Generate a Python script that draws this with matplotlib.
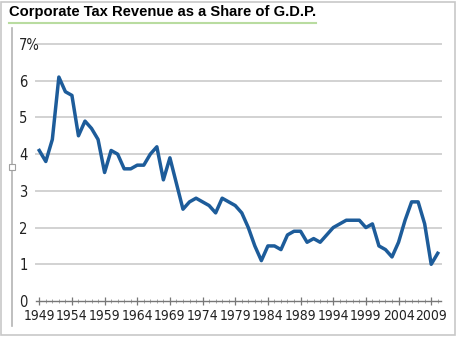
import matplotlib
matplotlib.use("Agg")
import matplotlib.pyplot as plt
from matplotlib import font_manager
from matplotlib.patches import Rectangle
from matplotlib.lines import Line2D

# Corporate tax revenue, percent of GDP, 1949-2010
years = list(range(1949, 2011))
share = [
    4.1, 3.8, 4.4, 6.1, 5.7, 5.6, 4.5, 4.9, 4.7, 4.4,   # 1949-1958
    3.5, 4.1, 4.0, 3.6, 3.6, 3.7, 3.7, 4.0, 4.2, 3.3,   # 1959-1968
    3.9, 3.2, 2.5, 2.7, 2.8, 2.7, 2.6, 2.4, 2.8, 2.7,   # 1969-1978
    2.6, 2.4, 2.0, 1.5, 1.1, 1.5, 1.5, 1.4, 1.8, 1.9,   # 1979-1988
    1.9, 1.6, 1.7, 1.6, 1.8, 2.0, 2.1, 2.2, 2.2, 2.2,   # 1989-1998
    2.0, 2.1, 1.5, 1.4, 1.2, 1.6, 2.2, 2.7, 2.7, 2.1,   # 1999-2008
    1.0, 1.3,                                           # 2009-2010
]
tick_years = list(range(1949, 2010, 5))
y_ticks = [0, 1, 2, 3, 4, 5, 6, 7]
y_labels = ["0", "1", "2", "3", "4", "5", "6", "7%"]
title = "Corporate Tax Revenue as a Share of G.D.P."

LINE_BLUE = "#1d5c9a"
GRID_GRAY = "#d2d2d2"
TEXT = "#222222"

# narrow face for the tick labels if the condensed DejaVu is around
cond = font_manager.FontProperties(family="DejaVu Sans", stretch="condensed")
if "Condensed" in font_manager.findfont(cond, fallback_to_default=False):
    tick_font = dict(family="DejaVu Sans", stretch="condensed")
else:
    tick_font = dict(family="Liberation Sans")

W, H = 460, 338
fig = plt.figure(figsize=(W / 100, H / 100), dpi=100)
fig.patch.set_facecolor("white")

# outer frame, the side rule and its little handle
fig.add_artist(Rectangle((1.5 / W, 3.5 / H), 453.5 / W, 333 / H, transform=fig.transFigure,
                         fill=False, edgecolor="#c8c8c8", linewidth=1.2))
fig.add_artist(Line2D([12.5 / W, 12.5 / W], [(H - 28) / H, (H - 326) / H],
                      transform=fig.transFigure, color="#b4b4b4", linewidth=1.2))
fig.add_artist(Line2D([12.5 / W], [(H - 167) / H], transform=fig.transFigure,
                      marker="s", markersize=4, markerfacecolor="white",
                      markeredgecolor="#a0a0a0", markeredgewidth=0.8, linestyle="none"))

# title with green underline
fig.text(9 / W, (H - 12) / H, title, fontsize=10.6, fontweight="bold",
         family="Liberation Sans", color="black", va="center", ha="left")
fig.add_artist(Line2D([9 / W, 316 / W], [(H - 22.5) / H, (H - 22.5) / H],
                      transform=fig.transFigure, color="#b9dca0", linewidth=1.5))

ax = fig.add_axes([36 / W, 37 / H, 405 / W, 257 / H])
ax.set_xlim(1948.5, 2010.5)
ax.set_ylim(0, 7)

for v in y_ticks[1:]:
    ax.axhline(v, color=GRID_GRAY, linewidth=1.4, zorder=1, clip_on=False)

ax.plot(years, share, color=LINE_BLUE, linewidth=2.5, solid_joinstyle="round",
        zorder=3, clip_on=False)

for s in ["top", "right", "left"]:
    ax.spines[s].set_visible(False)
ax.spines["bottom"].set_color("#777777")
ax.spines["bottom"].set_linewidth(1.0)

ax.set_xticks(tick_years)
ax.set_xticks(years, minor=True)
ax.tick_params(axis="x", which="major", direction="inout", length=6, width=0.9,
               color="#777777", pad=3, labelsize=10, labelcolor=TEXT)
ax.tick_params(axis="x", which="minor", direction="inout", length=3.5, width=0.6,
               color="#999999")
ax.set_xticklabels([str(y) for y in tick_years], **tick_font)

ax.set_yticks(y_ticks)
ax.set_yticklabels(y_labels, **tick_font)
ax.tick_params(axis="y", length=0, pad=12, labelsize=10.5, labelcolor=TEXT)
for lbl in ax.get_yticklabels():
    lbl.set_horizontalalignment("left")

fig.savefig("out.png", dpi=100)
